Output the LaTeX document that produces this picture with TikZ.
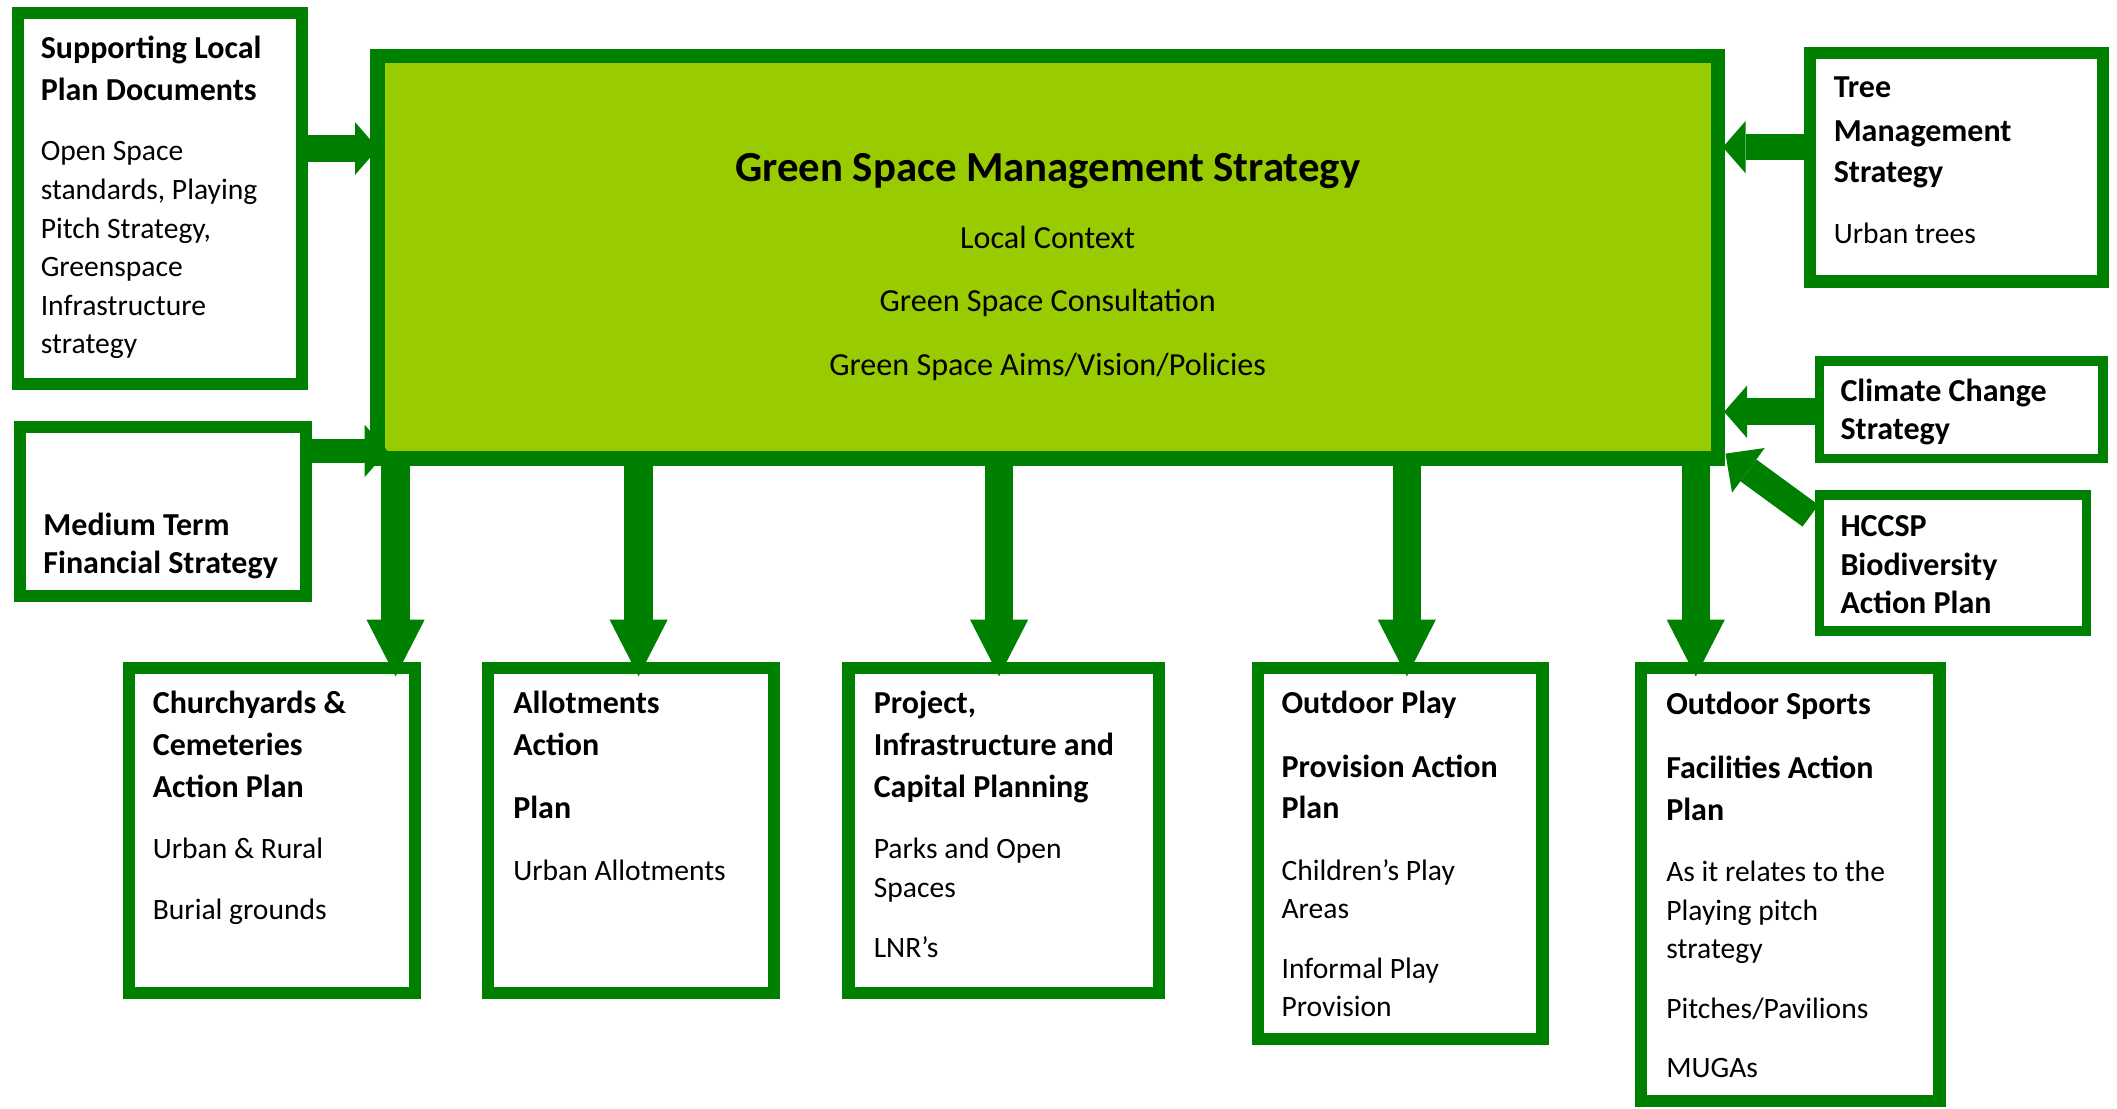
\documentclass[tikz,border=0pt]{standalone}
\usepackage{fontspec}
\setmainfont{Carlito}
\usetikzlibrary{arrows.meta}
\definecolor{dkgreen}{RGB}{0,128,0}
\definecolor{ltgreen}{RGB}{153,204,0}
\newcommand\hdfont{\fontsize{23.7}{28}\selectfont\bfseries}
\newcommand\bdfont{\fontsize{21.9}{26}\selectfont}
\newcommand\mbfont{\fontsize{23.8}{28}\selectfont}
\newcommand\ttlfont{\fontsize{31.7}{38}\selectfont\bfseries}
\tikzset{
  box/.style={rectangle, draw=dkgreen, fill=white, outer sep=0pt, inner sep=0pt},
  hd/.style={anchor=base west, inner sep=0pt, font=\hdfont},
  bd/.style={anchor=base west, inner sep=0pt, font=\bdfont},
  ctr/.style={anchor=base, inner sep=0pt, font=\mbfont},
  downarrow/.style={draw=dkgreen, line width=21pt, -{Triangle[width=43pt,length=42pt,line width=0pt]}},
  sidearrow/.style={draw=dkgreen, line width=#1, -{Triangle[width=39pt,length=17pt,line width=0pt]}},
}
\begin{document}
\begin{tikzpicture}[x=1pt,y=-1pt]
\useasboundingbox (0,0) rectangle (1568,821);
% main box
\node[box, fill=ltgreen, line width=11pt, minimum width=993pt, minimum height=298pt] (main) at (776,190.5) {};
% side boxes
\node[box, line width=9pt, minimum width=210pt, minimum height=275pt] (slpd) at (118.5,147) {};
\node[box, line width=9pt, minimum width=212pt, minimum height=125pt] (mtfs) at (120.5,379) {};
\node[box, line width=9pt, minimum width=217pt, minimum height=169pt] (tree) at (1449,124) {};
\node[box, line width=7pt, minimum width=210pt, minimum height=72pt] (clim) at (1452.5,303.5) {};
\node[box, line width=7pt, minimum width=198pt, minimum height=101pt] (hccsp) at (1446.5,417) {};
% bottom boxes
\node[box, line width=9pt, minimum width=212pt, minimum height=241pt] (chu) at (201.5,615) {};
\node[box, line width=9pt, minimum width=212pt, minimum height=241pt] (allot) at (467.5,615) {};
\node[box, line width=9pt, minimum width=230pt, minimum height=241pt] (proj) at (743.5,615) {};
\node[box, line width=9pt, minimum width=211pt, minimum height=275pt] (play) at (1037,632) {};
\node[box, line width=9pt, minimum width=221pt, minimum height=321pt] (sport) at (1326,655) {};
% texts
\begin{scope}[yshift=-1.5pt]
\node[anchor=base, inner sep=0pt, font=\ttlfont] (title) at (776,133) {Green Space Management Strategy};
\node[ctr] (m-l1) at (776,182.5) {Local Context};
\node[ctr] (m-l2) at (776,229.5) {Green Space Consultation};
\node[ctr] (m-l3) at (776,276.5) {Green Space Aims/Vision/Policies};
\foreach \y/\t [count=\i] in {42/Supporting Local, 73/Plan Documents}
  \node[hd] (slpd-h\i) at (30,\y) {\t};
\foreach \y/\t [count=\i] in {117.5/Open Space, {146.5/standards, Playing}, {175.5/Pitch Strategy,}, 203.5/Greenspace, 232.5/Infrastructure, 260.5/strategy}
  \node[bd] (slpd-b\i) at (30,\y) {\t};
\foreach \y/\t [count=\i] in {395/Medium Term, 423/Financial Strategy}
  \node[hd] (mtfs-h\i) at (32,\y) {\t};
\foreach \y/\t [count=\i] in {71/Tree, 103/Management, 134/Strategy}
  \node[hd] (tree-h\i) at (1358,\y) {\t};
\node[bd] (tree-b1) at (1358,178.5) {Urban trees};
\foreach \y/\t [count=\i] in {296/Climate Change, 324/Strategy}
  \node[hd] (clim-h\i) at (1363,\y) {\t};
\foreach \y/\t [count=\i] in {396/HCCSP, 425/Biodiversity, 453/Action Plan}
  \node[hd] (hccsp-h\i) at (1363,\y) {\t};
\foreach \y/\t [count=\i] in {527/Churchyards \&, 558/Cemeteries, 589/Action Plan}
  \node[hd] (chu-h\i) at (113,\y) {\t};
\foreach \y/\t [count=\i] in {634.5/Urban \& Rural, 679.5/Burial grounds}
  \node[bd] (chu-b\i) at (113,\y) {\t};
\foreach \y/\t [count=\i] in {527/Allotments, 558/Action, 605/Plan}
  \node[hd] (allot-h\i) at (380,\y) {\t};
\node[bd] (allot-b1) at (380,650.5) {Urban Allotments};
\foreach \y/\t [count=\i] in {{527/Project,}, 558/Infrastructure and, 589/Capital Planning}
  \node[hd] (proj-h\i) at (647,\y) {\t};
\foreach \y/\t [count=\i] in {634.5/Parks and Open, 663.5/Spaces, 707.5/LNR’s}
  \node[bd] (proj-b\i) at (647,\y) {\t};
\foreach \y/\t [count=\i] in {527/Outdoor Play, 574/Provision Action, 605/Plan}
  \node[hd] (play-h\i) at (949,\y) {\t};
\foreach \y/\t [count=\i] in {650.5/Children’s Play, 678.5/Areas, 723.5/Informal Play, 751.5/Provision}
  \node[bd] (play-b\i) at (949,\y) {\t};
\foreach \y/\t [count=\i] in {528/Outdoor Sports, 575/Facilities Action, 606/Plan}
  \node[hd] (sport-h\i) at (1234,\y) {\t};
\foreach \y/\t [count=\i] in {651.5/As it relates to the, 680.5/Playing pitch, 708.5/strategy, 752.5/{Pitches/Pavilions}, 796.5/MUGAs}
  \node[bd] (sport-b\i) at (1234,\y) {\t};
\end{scope}
% arrow end points
\coordinate (chu-in) at ([xshift=91.5pt, yshift=-6.5pt]chu.north);
\coordinate (allot-in) at ([xshift=5.5pt, yshift=-6.5pt]allot.north);
\coordinate (proj-in) at ([xshift=-3.5pt, yshift=-6.5pt]proj.north);
\coordinate (play-in) at ([xshift=5pt, yshift=-6.5pt]play.north);
\coordinate (sport-in) at ([xshift=-70pt, yshift=-6.5pt]sport.north);
\coordinate (m-slpd) at ([xshift=0.5pt, yshift=80.5pt]main.west);
\coordinate (m-mtfs) at ([xshift=7.5pt, yshift=-143.5pt]main.west);
\coordinate (m-tree) at ([xshift=3.5pt, yshift=81.5pt]main.east);
\coordinate (m-clim) at ([xshift=4.5pt, yshift=-114.5pt]main.east);
\coordinate (m-hccsp) at ([xshift=5.5pt, yshift=3.5pt]main.south east);
\coordinate (hccsp-out) at ([xshift=-6.5pt, yshift=35pt]hccsp.west);
% arrows
\foreach \b in {chu, allot, proj, play, sport}
  \draw[downarrow] (\b-in |- main.south) -- (\b-in);
\draw[sidearrow=20pt] (slpd.east |- m-slpd) -- (m-slpd);
\draw[sidearrow=18pt] (mtfs.east |- m-mtfs) -- (m-mtfs);
\draw[sidearrow=19pt] (tree.west |- m-tree) -- (m-tree);
\draw[sidearrow=20pt] (clim.west |- m-clim) -- (m-clim);
\draw[draw=dkgreen, line width=20pt, -{Triangle[width=41pt,length=21pt,line width=0pt]}] (hccsp-out) -- (m-hccsp);
\end{tikzpicture}
\end{document}
